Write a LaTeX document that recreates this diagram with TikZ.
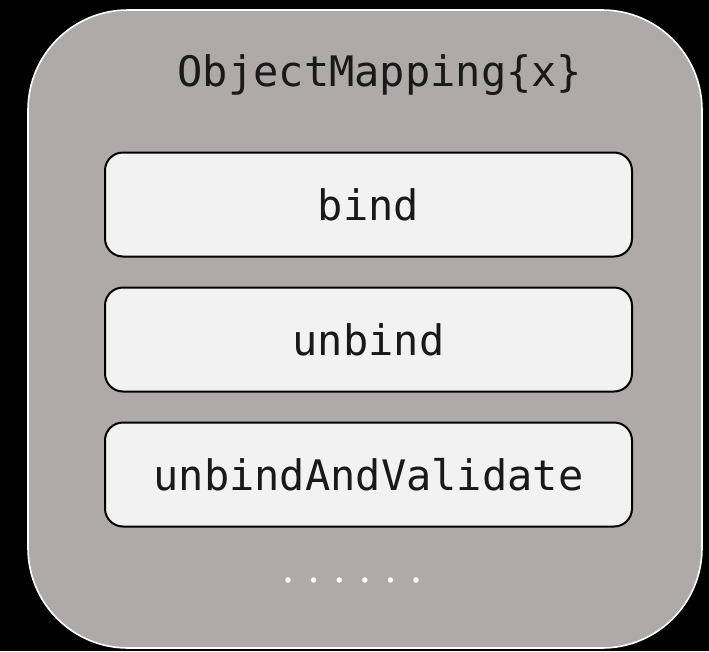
\documentclass[tikz,border=0pt]{standalone}
\usepackage{fontspec}
\setmonofont{DejaVu Sans Mono}
\definecolor{outerfill}{RGB}{174,170,169}
\definecolor{innerfill}{RGB}{242,242,242}
\begin{document}
\begin{tikzpicture}[x=1pt,y=-1pt,
  outerbox/.style={draw=white,line width=1.6pt,fill=outerfill,rounded corners=100pt,minimum width=674pt,minimum height=638pt,inner sep=0pt},
  method/.style={draw=black,line width=2pt,fill=innerfill,rounded corners=18pt,minimum width=527pt,minimum height=104pt,inner sep=0pt,font=\fontsize{42}{50}\selectfont\ttfamily,text=black!90},
  dotmark/.style={circle,fill=white,inner sep=0pt,minimum size=5.5pt}]
\fill[black] (0,0) rectangle (709,651);
\useasboundingbox (0,0) rectangle (709,651);
\node[outerbox] (outer) at (365,329) {};
\node[font=\fontsize{42}{50}\selectfont\ttfamily,text=black!90] (title) at (380,75) {ObjectMapping\{x\}};
\node[method] (bind) at (368.5,204.5) {bind};
\node[method] (unbind) at (368.5,339.5) {unbind};
\node[method] (unbindval) at (368.5,474.5) {unbindAndValidate};
\foreach \i in {0,...,5}{
  \node[dotmark] (d\i) at (288+25.6*\i,580) {};
}
\end{tikzpicture}
\end{document}
